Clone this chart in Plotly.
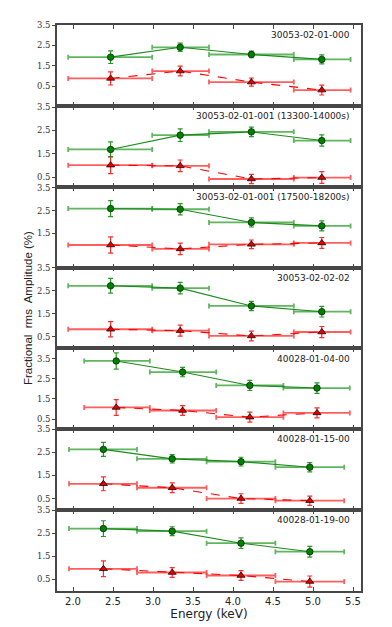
import plotly.graph_objects as go
from plotly.subplots import make_subplots

# ---- data ----
labels = ["30053-02-01-000",
          "30053-02-01-001 (13300-14000s)",
          "30053-02-01-001 (17500-18200s)",
          "30053-02-02-02",
          "40028-01-04-00",
          "40028-01-15-00",
          "40028-01-19-00"]

# energy bins (keV): centres, low and high edges
binA_mid = [2.47, 3.34, 4.23, 5.11]
binA_lo = [1.94, 2.99, 3.70, 4.76]
binA_hi = [2.99, 3.70, 4.76, 5.47]
binB_mid = [2.54, 3.37, 4.21, 5.05]
binB_lo = [2.14, 2.96, 3.79, 4.63]
binB_hi = [2.96, 3.79, 4.63, 5.46]
binC_mid = [2.38, 3.24, 4.10, 4.96]
binC_lo = [1.95, 2.80, 3.67, 4.53]
binC_hi = [2.80, 3.67, 4.53, 5.39]

panel_bins = ["A", "A", "A", "A", "B", "C", "C"]

green_rms = [[1.93, 2.41, 2.06, 1.82],
             [1.69, 2.30, 2.44, 2.07],
             [2.59, 2.56, 1.98, 1.83],
             [2.71, 2.61, 1.84, 1.59],
             [3.38, 2.83, 2.17, 2.04],
             [2.63, 2.22, 2.10, 1.86],
             [2.70, 2.59, 2.07, 1.70]]
green_err = [[0.31, 0.20, 0.16, 0.22],
             [0.32, 0.27, 0.20, 0.24],
             [0.35, 0.25, 0.20, 0.22],
             [0.32, 0.25, 0.20, 0.23],
             [0.40, 0.23, 0.25, 0.26],
             [0.30, 0.18, 0.19, 0.20],
             [0.34, 0.19, 0.23, 0.23]]
red_rms = [[0.89, 1.25, 0.71, 0.32],
           [1.02, 0.99, 0.43, 0.49],
           [0.99, 0.82, 1.02, 1.08],
           [0.83, 0.77, 0.54, 0.71],
           [1.08, 0.93, 0.60, 0.81],
           [1.14, 0.97, 0.50, 0.41],
           [0.96, 0.80, 0.67, 0.41]]
red_err = [[0.32, 0.24, 0.20, 0.24],
           [0.36, 0.25, 0.20, 0.25],
           [0.36, 0.25, 0.19, 0.24],
           [0.33, 0.24, 0.21, 0.24],
           [0.39, 0.24, 0.25, 0.25],
           [0.30, 0.21, 0.21, 0.20],
           [0.34, 0.21, 0.21, 0.24]]

y_ranges = [[-0.45, 3.5], [0.1, 3.55], [0.0, 3.55], [0.0, 3.5],
            [0.0, 4.0], [0.0, 3.5], [0.0, 3.5]]
y_ticks = [[0.5, 1.5, 2.5, 3.5], [0.5, 1.5, 2.5, 3.5], [1.5, 2.5, 3.5],
           [0.5, 1.5, 2.5, 3.5], [0.5, 1.5, 2.5, 3.5], [0.5, 1.5, 2.5, 3.5],
           [0.5, 1.5, 2.5, 3.5]]
x_ticks = [2.0, 2.5, 3.0, 3.5, 4.0, 4.5, 5.0, 5.5]

bins = {"A": (binA_mid, binA_lo, binA_hi),
        "B": (binB_mid, binB_lo, binB_hi),
        "C": (binC_mid, binC_lo, binC_hi)}

GREEN = "#008000"
RED = "#ff0000"
AXC = "#474747"

fig = make_subplots(rows=7, cols=1, shared_xaxes=True, vertical_spacing=0)

for i in range(7):
    mid, lo, hi = bins[panel_bins[i]]
    ex_minus = [m - l for m, l in zip(mid, lo)]
    ex_plus = [h - m for m, h in zip(mid, hi)]
    row = i + 1
    # horizontal energy bars (red)
    fig.add_trace(go.Scatter(
        x=mid, y=red_rms[i], mode="markers",
        marker=dict(size=1, color="rgba(0,0,0,0)"),
        error_x=dict(type="data", symmetric=False, array=ex_plus,
                     arrayminus=ex_minus, color="rgba(255,40,40,0.75)",
                     thickness=1.8, width=2.5),
        showlegend=False, hoverinfo="skip"), row=row, col=1)
    # horizontal energy bars (green)
    fig.add_trace(go.Scatter(
        x=mid, y=green_rms[i], mode="markers",
        marker=dict(size=1, color="rgba(0,0,0,0)"),
        error_x=dict(type="data", symmetric=False, array=ex_plus,
                     arrayminus=ex_minus, color="rgba(30,150,30,0.7)",
                     thickness=1.8, width=2.5),
        showlegend=False, hoverinfo="skip"), row=row, col=1)
    # red series
    fig.add_trace(go.Scatter(
        x=mid, y=red_rms[i], mode="lines+markers",
        line=dict(color=RED, width=1.1, dash="dash"),
        marker=dict(symbol="triangle-up", size=7, color="#e00000",
                    line=dict(color="#200000", width=0.8)),
        error_y=dict(type="data", array=red_err[i], color="rgba(255,20,20,0.9)",
                     thickness=1.2, width=2.5),
        showlegend=False), row=row, col=1)
    # green series
    fig.add_trace(go.Scatter(
        x=mid, y=green_rms[i], mode="lines+markers",
        line=dict(color="#1a8c1a", width=1.1),
        marker=dict(symbol="circle", size=6.5, color=GREEN,
                    line=dict(color="#003000", width=0.8)),
        error_y=dict(type="data", array=green_err[i], color="rgba(20,140,20,0.9)",
                     thickness=1.2, width=2.5),
        showlegend=False), row=row, col=1)

    yk = "yaxis" if i == 0 else f"yaxis{i+1}"
    xk = "xaxis" if i == 0 else f"xaxis{i+1}"
    fig.layout[yk].update(
        range=y_ranges[i], tickvals=y_ticks[i],
        ticktext=[f"{v:.1f}" for v in y_ticks[i]],
        ticks="outside", ticklen=3, tickwidth=1, tickcolor=AXC,
        showline=True, linecolor=AXC, linewidth=1.6, mirror=True,
        showgrid=False, zeroline=False,
        tickfont=dict(family="DejaVu Serif", size=8.5, color="#333"))
    fig.layout[xk].update(
        range=[1.8, 5.6], tickvals=x_ticks,
        ticktext=[f"{v:.1f}" for v in x_ticks],
        ticks="inside", ticklen=4, tickwidth=1, tickcolor=AXC,
        showline=True, linecolor=AXC, linewidth=1.6, mirror="ticks",
        showgrid=False, zeroline=False,
        tickfont=dict(family="DejaVu Sans", size=10, color="#222"))
    fig.add_annotation(
        text=labels[i], xref=f"{'x' if i == 0 else 'x' + str(i+1)} domain",
        yref=f"{'y' if i == 0 else 'y' + str(i+1)} domain",
        x=0.97, y=0.875, xanchor="right", yanchor="middle", showarrow=False,
        font=dict(family="DejaVu Sans", size=9, color="#222"))

fig.layout["xaxis7"].update(
    title=dict(text="Energy (keV)", standoff=4,
               font=dict(family="DejaVu Sans", size=12, color="#222")))

fig.add_annotation(
    text="Fractional  rms  Amplitude (%)", xref="paper", yref="paper",
    x=-0.095, y=0.5, textangle=-90, showarrow=False,
    xanchor="center", yanchor="middle",
    font=dict(family="Liberation Sans", size=11.5, color="#222"))

fig.update_layout(
    width=392, height=627,
    margin=dict(l=49, r=39, t=12, b=44),
    paper_bgcolor="white", plot_bgcolor="white",
    showlegend=False)

fig.write_html("out.html")
